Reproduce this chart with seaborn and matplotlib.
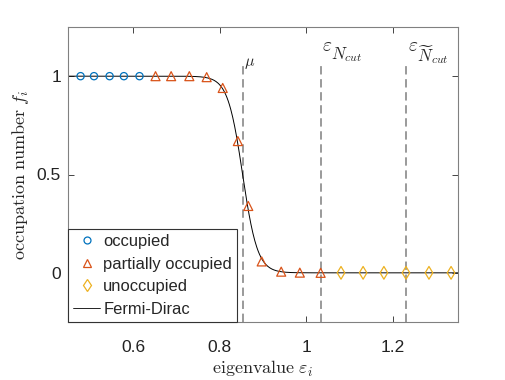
import numpy as np
import pandas as pd
import matplotlib
matplotlib.use("Agg")
import matplotlib.pyplot as plt
import seaborn as sns
from matplotlib.lines import Line2D

# ---- data ----
occ_x = [0.479, 0.510, 0.546, 0.579, 0.615]
occ_y = [1.0, 1.0, 1.0, 1.0, 1.0]
part_x = [0.652, 0.688, 0.730, 0.770, 0.807, 0.842, 0.866, 0.897, 0.942, 0.985, 1.033]
part_y = [1.0, 1.0, 1.0, 0.995, 0.94, 0.67, 0.34, 0.058, 0.006, 0.001, 0.0]
unocc_x = [1.080, 1.131, 1.179, 1.230, 1.283, 1.334]
unocc_y = [0.0, 0.0, 0.0, 0.0, 0.0, 0.0]
mu = 0.853
kT = 0.0172
vline_x = [0.853, 1.033, 1.230]
xticks = [0.6, 0.8, 1.0, 1.2]
xticklabels = ["0.6", "0.8", "1", "1.2"]
yticks = [0, 0.5, 1]
yticklabels = ["0", "0.5", "1"]
legend_labels = ["occupied", "partially occupied", "unoccupied", "Fermi-Dirac"]

sns.set_theme(style="white")
plt.rcParams["font.family"] = ["Liberation Sans", "DejaVu Sans"]
plt.rcParams["mathtext.fontset"] = "cm"

fig = plt.figure(figsize=(5.06, 3.80), dpi=100)
ax = fig.add_axes([68/506, 1 - 322/380, (458-68)/506, (322-27)/380])

xs = np.linspace(0.45, 1.35, 600)
fd = pd.DataFrame({"x": xs, "y": 1.0 / (1.0 + np.exp((xs - mu) / kT))})

blue = "#0072BD"
orange = "#D95319"
yellow = "#EDB120"

sns.lineplot(data=fd, x="x", y="y", color="black", lw=0.7, ax=ax, zorder=2, legend=False)

ymin, ymax = -0.25, 1.25
ax.vlines(vline_x, ymin, 1.05, colors="#9a9a9a", linestyles=(0, (4.3, 2.4)), lw=1.4, zorder=1)

# line labels
ax.text(vline_x[0] + 0.004, 1.05, r"$\mu$", fontsize=11.5, ha="left", va="baseline")
for xv, sub, ysub in [(vline_x[1], r"$N_{cut}$", 1.088), (vline_x[2], r"$\widetilde{N}_{cut}$", 1.078)]:
    ax.text(xv + 0.004, 1.127, r"$\varepsilon$", fontsize=14, ha="left", va="baseline")
    ax.text(xv + 0.025, ysub, sub, fontsize=12, ha="left", va="baseline")

sns.scatterplot(x=occ_x, y=occ_y, marker="o", s=27, color=blue, facecolor="none",
                edgecolor=blue, linewidth=0.9, ax=ax, zorder=3, legend=False)
sns.scatterplot(x=part_x, y=part_y, marker="^", s=42, color=orange, facecolor="none",
                edgecolor=orange, linewidth=0.9, ax=ax, zorder=3, legend=False)
sns.scatterplot(x=unocc_x, y=unocc_y, marker="d", s=42, color=yellow, facecolor="none",
                edgecolor=yellow, linewidth=0.9, ax=ax, zorder=3, legend=False)

ax.set_xlim(0.45, 1.35)
ax.set_ylim(ymin, ymax)
ax.set_xticks(xticks)
ax.set_xticklabels(xticklabels)
ax.set_yticks(yticks)
ax.set_yticklabels(yticklabels)
ax.tick_params(direction="in", length=4, width=0.7, color="#444444", labelsize=12.5,
               top=True, right=True, bottom=True, left=True, labelcolor="#222222")
ax.tick_params(axis="x", pad=13)
ax.tick_params(axis="y", pad=5)
for sp in ax.spines.values():
    sp.set_color("#808080")
    sp.set_linewidth(0.8)

ax.set_xlabel(r"$\mathrm{eigenvalue}\ \varepsilon_i$", fontsize=13, labelpad=3)
ax.set_ylabel(r"$\mathrm{occupation\ number}\ f_i$", fontsize=13, labelpad=4)

handles = [
    Line2D([], [], marker="o", ls="none", mfc="none", mec=blue, ms=5, mew=0.9),
    Line2D([], [], marker="^", ls="none", mfc="none", mec=orange, ms=6, mew=0.9),
    Line2D([], [], marker="d", ls="none", mfc="none", mec=yellow, ms=6, mew=0.9),
    Line2D([], [], color="black", lw=0.6),
]
leg = ax.legend(handles, legend_labels, loc="lower left", borderaxespad=0, fontsize=11.9,
                frameon=True, fancybox=False, framealpha=1, edgecolor="#333333",
                handlelength=1.6, handletextpad=0.2, labelspacing=0.45, borderpad=0.33)
leg.get_frame().set_linewidth(0.8)

fig.savefig("out.png", dpi=100)
